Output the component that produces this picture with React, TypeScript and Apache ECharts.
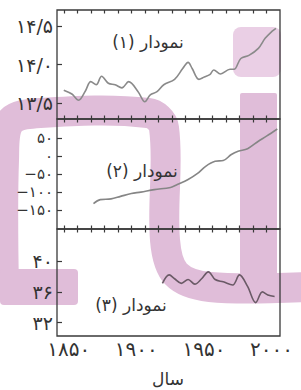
import React, { useEffect, useRef } from "react";
import * as echarts from "echarts";

// ---- data ----
const xTicks = [1850, 1860, 1870, 1880, 1890, 1900, 1910, 1920, 1930, 1940, 1950, 1960, 1970, 1980, 1990, 2000];
const xLabels = [1850, 1900, 1950, 2000];

const years1 = [1850, 1856, 1861, 1866, 1870, 1874, 1878, 1883, 1888, 1893, 1898, 1905, 1910, 1914, 1919, 1924, 1932, 1938, 1942, 1945, 1950, 1954, 1958, 1961, 1966, 1973, 1976, 1981, 1987, 1994, 1999, 2004, 2007];
const vals1 = [13.67, 13.62, 13.54, 13.66, 13.78, 13.74, 13.85, 13.76, 13.74, 13.70, 13.78, 13.65, 13.52, 13.61, 13.65, 13.74, 13.81, 13.95, 14.03, 13.95, 13.81, 13.84, 13.87, 13.93, 13.88, 13.94, 13.94, 14.08, 14.12, 14.21, 14.34, 14.43, 14.47];
const yTicks1 = [13.5, 14.0, 14.5];

const years2 = [1872, 1877, 1885, 1892, 1900, 1907, 1917, 1929, 1934, 1942, 1949, 1955, 1962, 1968, 1974, 1979, 1986, 1994, 2000, 2008];
const vals2 = [-132, -121, -119, -112, -104, -100, -93, -87, -79, -65, -48, -28, -14, -12, 5, 14, 21, 42, 56, 76];
const yTicks2 = [-150, -100, -50, 0, 50];

const years3 = [1923, 1928, 1932, 1937, 1942, 1947, 1952, 1957, 1962, 1968, 1975, 1980, 1986, 1992, 1997, 2001, 2006];
const vals3 = [37.1, 38.2, 37.7, 37.1, 37.6, 37.0, 37.7, 38.6, 37.6, 37.3, 36.9, 38.2, 36.7, 34.6, 36.0, 35.6, 35.4];
const yTicks3 = [32, 36, 40];

const panelTitles = ["نمودار (۱)", "نمودار (۲)", "نمودار (۳)"];
const xTitle = "سال";

// ---- helpers ----
const FA = "۰۱۲۳۴۵۶۷۸۹";
const toFa = (s: string) => s.replace(/[0-9]/g, (d) => FA[+d]);
const FONT = "DejaVu Sans";
const AX = "#3a3a3a";
const TXT = "#333333";

export default function App() {
  const ref = useRef<HTMLDivElement>(null);
  useEffect(() => {
    if (!ref.current) return;
    const chart = echarts.init(ref.current, undefined, { renderer: "svg" });

    const grids = [
      { left: 57, top: 10, width: 223, height: 109 },
      { left: 57, top: 119, width: 223, height: 110 },
      { left: 57, top: 229, width: 223, height: 107 },
    ].map((g) => ({ ...g, show: true, borderColor: AX, borderWidth: 1.3, backgroundColor: "transparent" }));

    const tickStyle = { color: AX, width: 1.2 };
    const xAxes: any[] = [];
    for (let i = 0; i < 3; i++) {
      xAxes.push({
        type: "value", gridIndex: i, position: "top", min: 1845, max: 2010,
        axisLine: { show: false, onZero: false }, splitLine: { show: false }, axisLabel: { show: false },
        axisTick: { show: true, inside: true, length: 3.5, customValues: xTicks, lineStyle: tickStyle },
      });
      if (i < 2) {
        xAxes.push({
          type: "value", gridIndex: i, position: "bottom", min: 1845, max: 2010,
          axisLine: { show: false, onZero: false }, splitLine: { show: false }, axisLabel: { show: false },
          axisTick: { show: true, inside: true, length: 3.5, customValues: xTicks, lineStyle: tickStyle },
        });
      } else {
        xAxes.push({
          type: "value", gridIndex: i, position: "bottom", min: 1845, max: 2010,
          axisLine: { show: false, onZero: false }, splitLine: { show: false }, axisTick: { show: false },
          axisLabel: {
            show: true, customValues: xLabels, margin: 5, padding: [0, 0, 0, 10],
            showMinLabel: true, showMaxLabel: true, lineHeight: 16,
            formatter: (v: number) => toFa(String(v)), color: TXT, fontFamily: FONT, fontSize: 20,
          },
        });
      }
    }

    const fmt2 = (v: number) => (v < 0 ? "−" : "") + toFa(String(Math.abs(v)));
    const yBase = (i: number, min: number, max: number, ticks: number[], fmt: (v: number) => string, showLabel: boolean) => ({
      type: "value", gridIndex: i, min, max, position: "left",
      axisLine: { show: false, onZero: false }, splitLine: { show: false },
      axisTick: { show: true, inside: true, length: 5, customValues: ticks, lineStyle: tickStyle },
      axisLabel: {
        show: showLabel, customValues: ticks, formatter: fmt, margin: 4, color: TXT, fontFamily: FONT, fontSize: 19,
        showMinLabel: true, showMaxLabel: true,
      },
    });

    const yAxes = [
      yBase(0, 13.297, 14.707, yTicks1, (v) => toFa(v.toFixed(1)).replace(".", "/"), true),
      yBase(1, -203, 104, yTicks2, fmt2, false),
      yBase(2, 30.27, 44.16, yTicks3, (v) => toFa(String(v)), true),
    ];

    const mk = (xs: number[], vs: number[]) => xs.map((x, i) => [x, vs[i]]);
    const lineSeries = (xi: number, yi: number, data: number[][], color: string) => ({
      type: "line", xAxisIndex: xi, yAxisIndex: yi, data, showSymbol: false, smooth: 0.35,
      lineStyle: { color, width: 1.6 }, z: 5,
    });

    const pink = "#e0bdd9";
    const pinkLight = "#eacfe5";
    const wm = (points: number[][], w: number) => ({
      type: "polyline", z: -10, silent: true,
      shape: { points, smooth: 0.35 },
      style: { stroke: pink, lineWidth: w, fill: null, lineCap: "butt", lineJoin: "round" },
    });
    const wmRect = (x: number, y: number, width: number, height: number, fill: string, r = 6) => ({
      type: "rect", z: -10, silent: true, shape: { x, y, width, height, r }, style: { fill },
    });

    const titleText = (x: number, y: number, t: string) => ({
      type: "text", x, y, z: 10,
      style: {
        text: "\u202B" + t + "\u202C", fill: TXT, font: `17px "${FONT}"`,
        textAlign: "center", textVerticalAlign: "middle",
      },
    });

    const baseGraphic: any[] = [
      wm([[4, 290], [4, 160], [10, 122], [40, 113], [148, 113], [164, 128], [165, 240], [176, 274], [210, 287], [305, 287]], 30),
      wmRect(0, 269, 78, 36, pink, 4),
      wmRect(240, 93, 37, 185, pink, 2),
      wmRect(233, 27, 48, 50, pinkLight, 8),
      titleText(148, 42, panelTitles[0]),
      titleText(142, 171, panelTitles[1]),
      titleText(131, 305, panelTitles[2]),
      {
        type: "text", x: 168, y: 379, z: 10,
        style: { text: xTitle, fill: TXT, font: `17px "${FONT}"`, textAlign: "center", textVerticalAlign: "middle" },
      },
    ];

    chart.setOption({
      animation: false,
      backgroundColor: "#ffffff",
      grid: grids,
      xAxis: xAxes,
      yAxis: yAxes,
      series: [
        lineSeries(0, 0, mk(years1, vals1), "#8a8a8a"),
        lineSeries(2, 1, mk(years2, vals2), "#868686"),
        lineSeries(4, 2, mk(years3, vals3), "#6a5a66"),
      ],
      graphic: baseGraphic,
    });

    // panel 2 tick labels placed through the axis scale (dense ticks)
    const labels2 = yTicks2.map((v) => {
      const py = chart.convertToPixel({ yAxisIndex: 1 } as any, v) as number;
      return {
        type: "text", x: 53, y: py, z: 10,
        style: {
          text: fmt2(v), fill: TXT, font: `15px "${FONT}"`, lineHeight: 15,
          textAlign: "right", textVerticalAlign: "middle",
        },
      };
    });
    chart.setOption({ graphic: baseGraphic.concat(labels2) });

    return () => chart.dispose();
  }, []);
  return <div ref={ref} style={{ position: "fixed", left: 0, top: 0, width: 301, height: 390 }} />;
}
